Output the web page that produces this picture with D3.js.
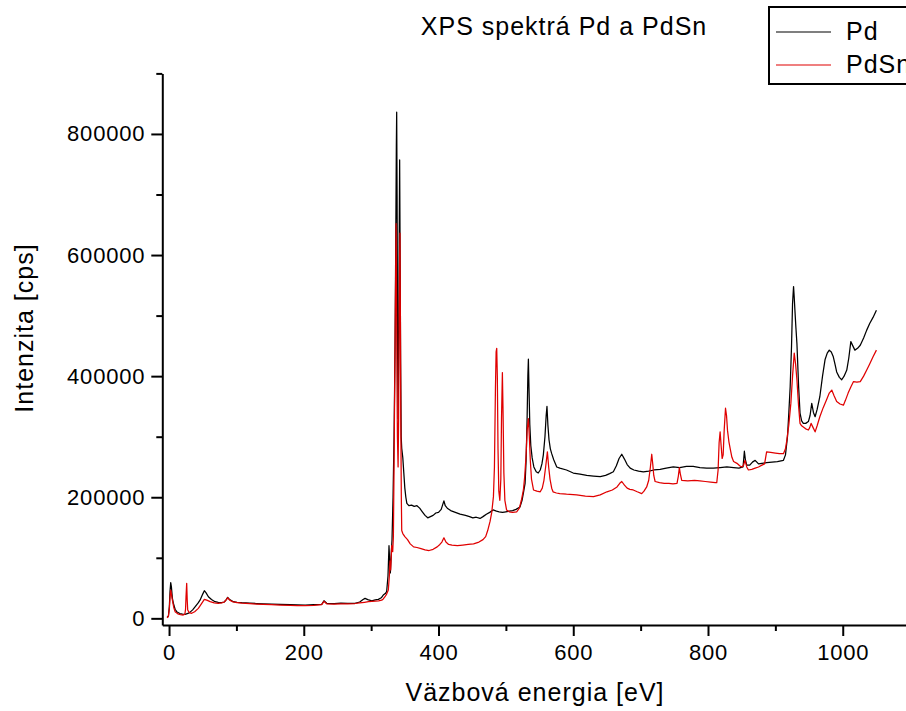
<!DOCTYPE html>
<html>
<head>
<meta charset="utf-8">
<script src="https://cdn.jsdelivr.net/npm/d3@7"></script>
<style>
  html, body { margin: 0; padding: 0; background: #fff; }
  svg { display: block; font-family: "Liberation Sans", Arial, sans-serif; }
</style>
</head>
<body>
<svg id="chart" width="906" height="711"></svg>
<script>
// ---------- data (binding energy eV, intensity cps) ----------
const chartTitle = "XPS spektrá Pd a PdSn";
const xTitle = "Väzbová energia [eV]";
const yTitle = "Intenzita [cps]";
const seriesNames = ["Pd", "PdSn"];
const seriesColors = ["#000000", "#e00000"];
const xTickValues = [0, 200, 400, 600, 800, 1000];
const yTickValues = [0, 200000, 400000, 600000, 800000];

const pdPoints = [
  [-3,2000],[-1,3000],[0.5,20000],[1.5,45000],[2.5,59000],[3.5,52000],[5,33000],[6.4,25000],[9,15000],[11.4,11000],
  [16,8000],[20,6800],[23.7,6600],[26,7500],[30,9000],[35,14000],[38.6,19000],[43,25000],[46,30000],[50,40000],
  [52.4,45600],[55,42000],[58.4,35700],[63,31000],[68.3,27500],[73,26500],[78,25800],[82,27000],[85,31000],[87,34700],
  [90,31000],[95.5,27500],[101,26500],[108,25800],[120,25000],[130,24500],[140,24000],[152,23600],[165,23000],[180,22500],
  [190,22200],[202,22000],[215,22500],[226.6,23100],[230,29000],[234,24800],[245,24500],[255,25000],[265,24800],[276,24800],
  [283,27000],[288,31000],[291,33000],[295,31000],[301,29000],[306,30500],[310.7,31400],[315,34000],[318,38500],[321,41000],
  [323,44000],[325,70000],[326.5,120000],[327.5,95000],[328.5,75000],[330,110000],[331,130000],[332.5,200000],[334,300000],[335.5,450000],
  [336.5,620000],[337.4,780000],[337.9,836000],[338.5,700000],[339.2,450000],[340,330000],[340.8,420000],[341.6,620000],[342.3,757000],[343,600000],
  [343.8,420000],[344.6,300000],[345.4,281000],[347,265000],[348.5,240000],[350,215000],[351.5,200000],[353,190000],[356,186000],[360,187000],
  [364,185000],[368,186000],[372,182000],[376,176000],[380,170000],[384,166000],[388,168000],[392,170000],[396,174000],[400,175000],
  [404,180000],[406,187000],[408,194000],[410,186000],[413,182000],[418,178000],[425,175000],[432,172000],[440,170000],[446,168000],
  [451,166000],[456,167000],[461.6,165000],[466,168000],[471,172000],[476,175000],[481,179000],[486,177000],[490,176000],[495,175000],
  [500,176000],[505,177000],[510,178000],[515,180000],[521,184000],[524,195000],[526.5,210000],[528.5,223000],[530,260000],[531.5,330000],
  [532.6,400000],[533.4,428000],[534.3,380000],[535.5,320000],[537,285000],[539,265000],[541.5,250000],[545,242000],[548,240000],[551,245000],
  [553.5,255000],[555.6,270000],[558,300000],[559.8,335000],[561,350000],[562.3,320000],[564,295000],[566,280000],[568,272000],[571,262000],
  [575.5,250000],[580,248000],[590,245000],[600,240000],[610,238000],[620,236000],[630,235000],[640,234000],[648,236000],[654,239000],
  [659.5,242000],[664,252000],[668,264000],[672,271000],[676,263000],[680,254000],[684.5,248000],[690,245000],[697,243000],[704,242000],
  [712,243000],[720,245000],[729,246000],[738,248000],[748.5,250000],[758,249000],[768,251000],[778,251000],[788,249000],[798,248000],
  [808,248000],[818,249000],[828,250000],[838,249000],[846,248000],[852,250000],[854,276000],[855.5,262000],[857.5,253000],[862,253000],
  [866,258000],[870,261000],[875,255000],[880,256000],[887,257000],[895,258000],[903,259000],[912,261000],[915,270000],[918,300000],
  [920,340000],[922,383000],[924,450000],[925.5,520000],[927,548000],[928,530000],[929,509000],[930.5,480000],[932,454000],[934.5,383000],
  [936.6,339000],[939,326000],[941.5,322000],[945,322000],[949,325000],[951.5,335000],[954,355000],[956.5,340000],[959,333000],[962,345000],
  [966,366000],[970,400000],[973.7,427000],[977,438000],[980,443000],[983,440000],[986,432000],[988.5,420000],[991,407000],[995,398000],
  [998.5,394000],[1002,400000],[1006,410000],[1009,430000],[1012,457000],[1015,450000],[1018,443000],[1022,446000],[1026,451000],[1031,463000],
  [1035.6,476000],[1040,487000],[1045,497000],[1050,509000]
];

const pdsnPoints = [
  [-3,1000],[-1,3000],[0.5,16500],[1.5,35000],[2.5,46700],[3.5,40000],[5,30000],[7,18000],[9,11000],[13,7500],
  [17,6000],[21,5500],[23.5,7000],[24.5,15000],[25.2,35000],[26.2,57800],[27,30000],[27.7,13700],[30,9500],[33.6,8300],
  [38,11000],[43.5,16500],[48,24000],[52.4,31400],[56,30000],[61,27500],[67,25500],[73,24800],[78,25500],[82,27000],
  [85,31000],[87,34000],[90,30000],[95,27000],[101,26000],[108,25000],[120,24200],[130,23600],[140,23000],[152,22500],
  [165,22000],[180,21500],[190,21000],[202,21000],[215,21500],[226.6,22500],[230,28000],[234,24000],[245,23500],[255,24000],
  [265,24000],[276,24500],[283,25500],[290,26500],[296,27500],[301,28000],[306,28500],[311,29000],[315.7,30000],[318,32000],
  [320.6,35700],[323,40000],[325.5,46700],[327,70000],[328,95000],[329,80000],[330.5,120000],[332,110000],[333,135000],[334,250000],
  [335.5,460000],[336.3,560000],[337,652000],[337.6,560000],[338.3,400000],[339,300000],[340,250000],[340.8,330000],[341.6,500000],[342.3,600000],
  [342.8,636000],[343.4,500000],[344,330000],[344.8,200000],[345.4,145000],[347,140000],[350,135000],[354,130000],[358,123000],[363,118000],
  [368,117000],[374,115000],[380,113000],[386,112000],[392,114000],[398,118000],[402,122000],[405,126000],[408,133000],[411,126000],
  [415,122000],[420,121000],[428,120000],[436,121000],[444,122000],[452,123000],[460,126000],[466,130000],[470,135000],[473,145000],
  [476.5,160000],[479,175000],[481.5,201000],[483,250000],[484.5,380000],[485.5,440000],[486.4,446000],[487.3,400000],[488.3,280000],[489.5,210000],
  [491,195000],[492.5,230000],[493.5,330000],[494.8,406000],[495.8,340000],[497,240000],[498.5,195000],[501,179000],[505,176000],[510,175000],
  [516,176000],[520,182000],[523,195000],[526,212000],[528,235000],[530,270000],[531.5,310000],[533.4,330000],[534.8,300000],[536.3,260000],
  [538,230000],[541,212000],[546,210000],[551,209000],[554,215000],[556.5,228000],[559,250000],[561.6,275000],[563.5,250000],[565.5,230000],
  [568,215000],[570,209000],[575,207000],[580,206000],[590,205000],[605,204000],[618,202000],[630,201000],[640,204000],[650,209000],
  [658,212000],[665,217000],[669,223000],[672,226000],[676,220000],[680,215000],[684,213000],[689,212000],[695,209000],[701.6,206000],
  [705,210000],[709,217000],[712,228000],[714.5,250000],[716.5,271000],[718,255000],[719.5,236000],[721.5,226000],[728,224000],[735,223000],
  [742,223000],[748,222000],[754,223000],[756,235000],[757.5,249000],[759,238000],[761,228000],[770,227000],[780,228000],[788,227000],
  [796,226000],[804,225000],[811,224000],[813,224000],[815,245000],[816.5,290000],[818,308000],[819.5,285000],[821,264000],[822.5,270000],
  [824,310000],[826,347000],[827.5,335000],[829,310000],[831,292000],[833,280000],[835.5,266000],[838,259000],[843,256000],[847,252000],
  [850,250000],[852.5,252000],[855,261000],[857.5,250000],[860,245000],[865,246000],[870,248000],[875,250000],[880,253000],[884,255000],
  [887,275000],[893,274000],[900,273000],[906,272000],[912,272000],[915,280000],[917,294000],[920,320000],[923,355000],[925.5,400000],
  [928,438000],[930,420000],[932,394000],[934.5,350000],[936.6,322000],[939,318000],[941.5,316000],[945,313000],[949,311000],[951,315000],
  [953,322000],[956,315000],[959,308000],[962,318000],[966,333000],[971,348000],[976,361000],[980,372000],[983.7,377000],[987,368000],
  [991,358000],[996,354000],[1001,352000],[1004,360000],[1008,372000],[1012,382000],[1016,391000],[1021,390000],[1026,391000],[1031,400000],
  [1035.6,410000],[1040,420000],[1045,432000],[1050,443000]
];

// ---------- layout ----------
const svg = d3.select("#chart");
const x = d3.scaleLinear().domain([-10, 1100]).range([162.3, 162.3 + 1110 * 0.6737]);
const y = d3.scaleLinear().domain([-11000, 900000]).range([625, 73.4]);

const fontFamily = '"Liberation Sans", Arial, sans-serif';

// lines
const line = d3.line().x(d => x(d[0])).y(d => y(d[1]));
const seriesData = [pdPoints, pdsnPoints];
seriesData.forEach((pts, i) => {
  svg.append("path")
    .datum(pts)
    .attr("fill", "none")
    .attr("stroke", seriesColors[i])
    .attr("stroke-width", 1.25)
    .attr("stroke-linejoin", "round")
    .attr("d", line);
});

// x axis
const xAxisG = svg.append("g").attr("transform", `translate(0,${y(-11000)})`);
xAxisG.call(d3.axisBottom(x).tickValues(xTickValues).tickSize(11).tickSizeOuter(0).tickPadding(8).tickFormat(d3.format("d")));
xAxisG.append("g").call(d3.axisBottom(x).tickValues([100, 300, 500, 700, 900]).tickSize(6).tickSizeOuter(0).tickFormat(""))
  .select(".domain").remove();

// y axis
const yAxisG = svg.append("g").attr("transform", `translate(${x(-10)},0)`);
yAxisG.call(d3.axisLeft(y).tickValues(yTickValues).tickSize(11).tickSizeOuter(0).tickPadding(6).tickFormat(d3.format("d")));
yAxisG.append("g").call(d3.axisLeft(y).tickValues([100000, 300000, 500000, 700000, 900000]).tickSize(6).tickSizeOuter(0).tickFormat(""))
  .select(".domain").remove();

svg.selectAll(".domain").attr("stroke", "#000").attr("stroke-width", 2);
svg.selectAll(".tick line").attr("stroke", "#000").attr("stroke-width", 2);
svg.selectAll(".tick text")
  .attr("fill", "#000")
  .style("font-family", fontFamily)
  .style("font-size", "22px")
  .style("letter-spacing", "0.8px");

// titles
svg.append("text")
  .attr("x", 564).attr("y", 35)
  .attr("text-anchor", "middle")
  .style("font-family", fontFamily).style("font-size", "25px").style("letter-spacing", "1px")
  .text(chartTitle);

svg.append("text")
  .attr("x", 535).attr("y", 701)
  .attr("text-anchor", "middle")
  .style("font-family", fontFamily).style("font-size", "25px").style("letter-spacing", "1px")
  .text(xTitle);

svg.append("text")
  .attr("transform", "translate(33,328) rotate(-90)")
  .attr("text-anchor", "middle")
  .style("font-family", fontFamily).style("font-size", "25px").style("letter-spacing", "1px")
  .text(yTitle);

// legend
const lg = svg.append("g");
lg.append("rect")
  .attr("x", 769).attr("y", 7).attr("width", 200).attr("height", 77)
  .attr("fill", "#fff").attr("stroke", "#000").attr("stroke-width", 2);
seriesNames.forEach((name, i) => {
  const cy = 32 + i * 33;
  lg.append("line").attr("x1", 776).attr("x2", 831).attr("y1", cy).attr("y2", cy)
    .attr("stroke", seriesColors[i]).attr("stroke-width", 1.1);
  lg.append("text").attr("x", 846).attr("y", cy + 8)
    .style("font-family", fontFamily).style("font-size", "25px").style("letter-spacing", "1px")
    .text(name);
});
</script>
</body>
</html>
